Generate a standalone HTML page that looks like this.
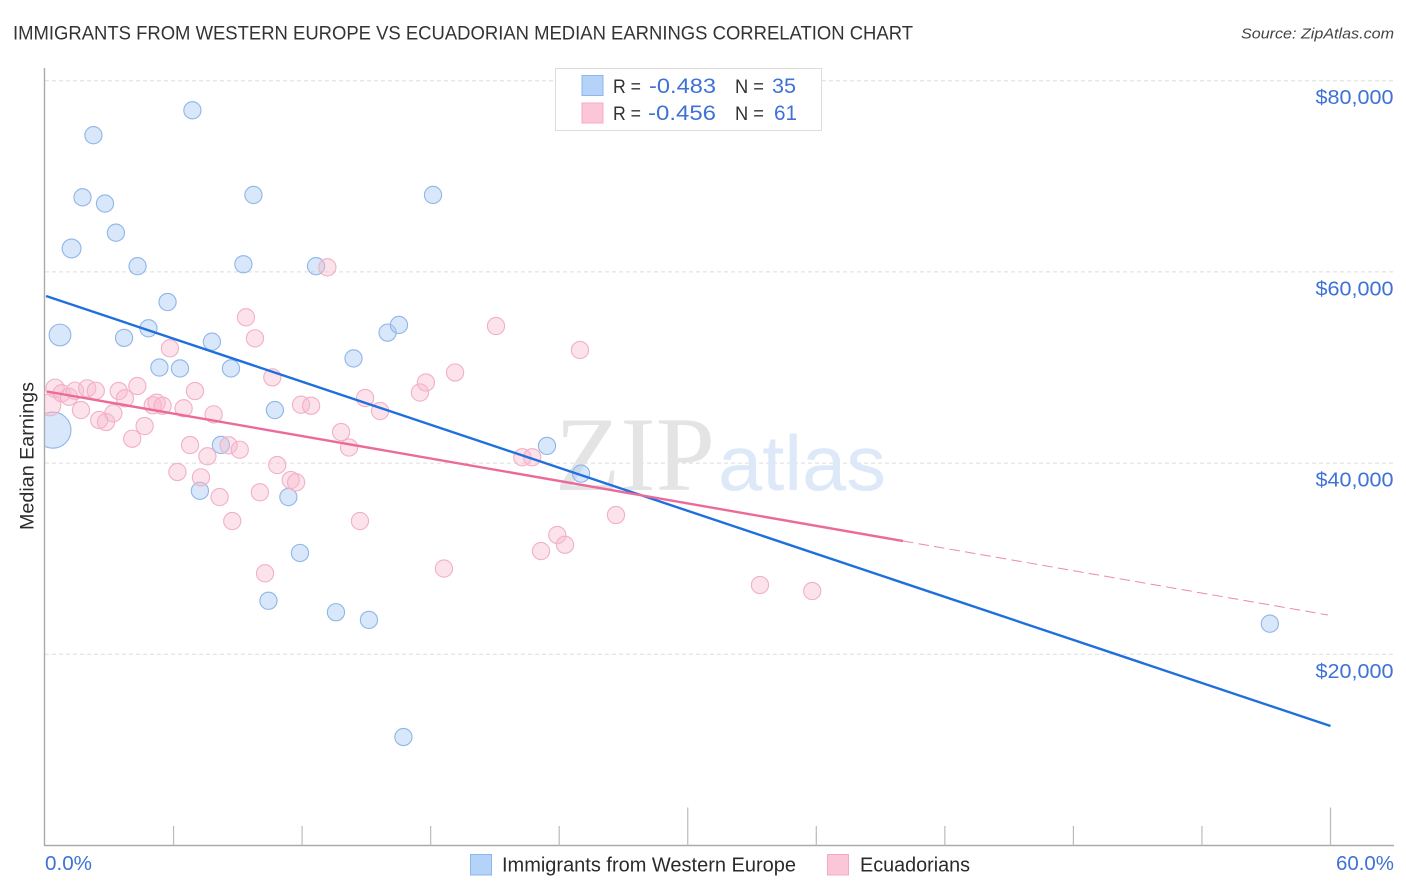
<!DOCTYPE html>
<html lang="en">
<head>
<meta charset="utf-8">
<title>Immigrants from Western Europe vs Ecuadorian Median Earnings Correlation Chart</title>
<style>
html,body{margin:0;padding:0;background:#fff;width:1406px;height:892px;overflow:hidden}
svg{display:block;font-family:"Liberation Sans",sans-serif}
</style>
</head>
<body>
<svg id="chart" width="1406" height="892" viewBox="0 0 1406 892" xmlns="http://www.w3.org/2000/svg">
  <defs>
    <clipPath id="plot-clip"><rect x="45" y="60" width="1349" height="786"/></clipPath>
  </defs>
  <rect x="0" y="0" width="1406" height="892" fill="#ffffff"/>
  <text x="13" y="39.5" font-size="19" fill="#333333" textLength="900" lengthAdjust="spacingAndGlyphs">IMMIGRANTS FROM WESTERN EUROPE VS ECUADORIAN MEDIAN EARNINGS CORRELATION CHART</text>
  <text x="1241" y="38.5" font-size="15" font-style="italic" fill="#444444" textLength="153" lengthAdjust="spacingAndGlyphs">Source: ZipAtlas.com</text>
  <g id="grid-layer"></g>
  <g>
    <text x="555" y="490" font-family="'Liberation Serif',serif" font-size="106" fill="#e4e4e4" textLength="160" lengthAdjust="spacingAndGlyphs">ZIP</text>
    <text x="718" y="490" font-size="78" fill="#dde8f8" textLength="168" lengthAdjust="spacingAndGlyphs">atlas</text>
  </g>
  <g id="axis-layer"></g>
  <g id="blue-points" clip-path="url(#plot-clip)"></g>
  <g id="pink-points" clip-path="url(#plot-clip)"></g>
  <g id="trend-layer"></g>
  <g id="label-layer"></g>
  <text transform="translate(33.5 530) rotate(-90)" font-size="19" fill="#2b2b2b" textLength="148" lengthAdjust="spacingAndGlyphs">Median Earnings</text>

  <g>
    <rect x="555.5" y="68.5" width="266" height="62" fill="#ffffff" stroke="#dcdcdc" stroke-width="1"/>
    <rect x="582" y="75.5" width="21" height="20" fill="#b5d2f8" stroke="#8db6ec" stroke-width="1"/>
    <rect x="582" y="103" width="21" height="20" fill="#fcc6d9" stroke="#f6a9c4" stroke-width="1"/>
    <text x="613" y="93" font-size="19.5" fill="#333333" textLength="28" lengthAdjust="spacingAndGlyphs">R =</text>
    <text x="649" y="93" font-size="21" fill="#3f72d6" textLength="67" lengthAdjust="spacingAndGlyphs">-0.483</text>
    <text x="735" y="93" font-size="19.5" fill="#333333" textLength="29" lengthAdjust="spacingAndGlyphs">N =</text>
    <text x="772" y="93" font-size="21" fill="#3f72d6" textLength="24" lengthAdjust="spacingAndGlyphs">35</text>
    <text x="613" y="120" font-size="19.5" fill="#333333" textLength="28" lengthAdjust="spacingAndGlyphs">R =</text>
    <text x="648" y="120" font-size="21" fill="#3f72d6" textLength="68" lengthAdjust="spacingAndGlyphs">-0.456</text>
    <text x="735" y="120" font-size="19.5" fill="#333333" textLength="29" lengthAdjust="spacingAndGlyphs">N =</text>
    <text x="774" y="120" font-size="21" fill="#3f72d6" textLength="23" lengthAdjust="spacingAndGlyphs">61</text>
  </g>

  <g>
    <rect x="470.5" y="854.5" width="21" height="20.5" fill="#b5d2f8" stroke="#8db6ec" stroke-width="1"/>
    <text x="502" y="871.5" font-size="20" fill="#2b2b2b" textLength="294" lengthAdjust="spacingAndGlyphs">Immigrants from Western Europe</text>
    <rect x="827.5" y="854.5" width="21" height="20.5" fill="#fcc6d9" stroke="#f6a9c4" stroke-width="1"/>
    <text x="860" y="871.5" font-size="20" fill="#2b2b2b" textLength="110" lengthAdjust="spacingAndGlyphs">Ecuadorians</text>
  </g>
</svg>
<script>
// ---- chart data ----
const yTickValues = [20000, 40000, 60000, 80000];
const yTickLabels = ["$20,000", "$40,000", "$60,000", "$80,000"];
const xTickValues = [6, 12, 18, 24, 30, 36, 42, 48, 54, 60];
const xMajorTicks = [30, 60];
const xEndLabels = ["0.0%", "60.0%"];

const blueShare = [6.88,2.26,1.75,2.80,9.73,18.11,3.31,1.24,4.32,9.26,12.65,5.72,0.70,3.69,4.83,7.79,5.34,6.30,8.68,14.40,15.99,16.52,10.73,0.37,8.21,23.43,25.02,7.23,11.36,11.90,10.43,13.58,15.12,16.73,57.17];
const blueEarnings = [76900,74300,67800,67150,68050,68050,64100,62450,60600,60800,60600,56850,53400,53100,54100,52700,50000,49900,49900,50950,53650,54450,45550,43450,41900,41800,38900,37100,36450,30600,25600,24400,23600,11350,23200];
const blueWeight = [1,1,1,1,1,1,1,1.2,1,1,1,1,1.6,1,1,1,1,1,1,1,1,1,1,4.4,1,1,1,1,1,1,1,1,1,1,1];

const pinkShare = [0.47,0.23,0.78,1.12,1.40,1.97,2.37,1.68,2.53,2.85,3.19,3.44,3.73,4.31,4.07,4.65,5.03,5.21,5.49,6.47,7.00,7.87,6.77,7.58,8.57,9.09,6.18,7.28,8.15,8.74,10.03,10.27,10.61,10.84,11.47,11.72,11.95,12.42,13.82,14.19,13.18,9.38,9.80,5.83,14.70,14.94,15.64,17.50,17.78,19.14,21.05,24.97,22.28,22.74,23.91,24.27,23.15,26.65,33.37,35.81,18.62];
const pinkEarnings = [47820,46080,47300,46940,47570,47820,47570,45550,44510,44300,45210,47540,46780,48060,42550,43880,46050,46320,46000,45730,47540,45100,41890,40710,41860,41400,39070,38510,36450,33940,36950,28470,48970,39800,38230,37990,46110,46000,43250,41630,60480,55250,53050,52010,33940,46810,45450,47380,48430,49480,54340,51830,40610,40610,32480,31460,30800,34570,27250,26620,28970];
const pinkWeight = [1.15,1.6,1,1,1,1,1,1,1,1,1,1,1,1,1,1,1,1,1,1,1,1,1,1,1,1,1,1,1,1,1,1,1,1,1,1,1,1,1,1,1,1,1,1,1,1,1,1,1,1,1,1,1,1,1,1,1,1,1,1,1];

const blueTrendX = [0.05, 60];
const blueTrendY = [57480, 12500];
const pinkTrendX = [0.09, 40.05];
const pinkTrendY = [47490, 31850];
const pinkForecastX = [40.05, 59.88];
const pinkForecastY = [31850, 24110];

// ---- axis functions ----
const SVGNS = "http://www.w3.org/2000/svg";
const plotLeft = 45, plotRight60 = 1330.5, plotBottom = 845.5, pxPerDollar = 191.2 / 20000;
function xScale(v) { return plotLeft + v * (plotRight60 - plotLeft) / 60; }
function yScale(v) { return plotBottom - v * pxPerDollar; }
function rScale(w) { return 8.6 * Math.sqrt(w); }
function make(tag, parent, attrs) {
  const el = document.createElementNS(SVGNS, tag);
  for (const k in attrs) el.setAttribute(k, attrs[k]);
  parent.appendChild(el);
  return el;
}

const gridLayer = document.getElementById("grid-layer");
const axisLayer = document.getElementById("axis-layer");
const labelLayer = document.getElementById("label-layer");
const blueLayer = document.getElementById("blue-points");
const pinkLayer = document.getElementById("pink-points");
const trendLayer = document.getElementById("trend-layer");

// gridlines and y labels
yTickValues.forEach(function (v, i) {
  const line = make("line", gridLayer, {x1: plotLeft, x2: 1394, y1: yScale(v), y2: yScale(v), stroke: "#dddddd", "stroke-width": 1, "stroke-dasharray": "4 3"});
  
  
  const label = make("text", labelLayer, {x: 1393.5, y: yScale(v) + 23.5, "text-anchor": "end", "font-size": 20, fill: "#3f72d6", textLength: 78, lengthAdjust: "spacingAndGlyphs"});
  
  
  label.textContent = yTickLabels[i];
});

// axes
const yAxis = make("line", axisLayer, {x1: 44.5, x2: 44.5, y1: 68, y2: 846, stroke: "#aaaaaa", "stroke-width": 1.4});


const xAxis = make("line", axisLayer, {x1: 44, x2: 1394, y1: 845.5, y2: 845.5, stroke: "#aaaaaa", "stroke-width": 1.4});


xTickValues.forEach(function (v) {
  const top = xMajorTicks.indexOf(v) >= 0 ? 807.5 : 826;
  const tick = make("line", axisLayer, {x1: xScale(v), x2: xScale(v), y1: top, y2: 845.5, stroke: "#bbbbbb", "stroke-width": 1.2});
  
  
});
const xLabelStart = make("text", labelLayer, {x: 45, y: 870, "font-size": 20, fill: "#3f72d6", textLength: 47, lengthAdjust: "spacingAndGlyphs"});


xLabelStart.textContent = xEndLabels[0];
const xLabelEnd = make("text", labelLayer, {x: 1336, y: 870, "font-size": 20, fill: "#3f72d6", textLength: 58, lengthAdjust: "spacingAndGlyphs"});


xLabelEnd.textContent = xEndLabels[1];

// points
blueShare.forEach(function (v, i) {
  const dot = make("circle", blueLayer, {cx: xScale(v), cy: yScale(blueEarnings[i]), r: rScale(blueWeight[i]), fill: "#a9c9f2", "fill-opacity": 0.45, stroke: "#8fb6e8", "stroke-width": 1.1});
  
  
});
pinkShare.forEach(function (v, i) {
  const dot = make("circle", pinkLayer, {cx: xScale(v), cy: yScale(pinkEarnings[i]), r: rScale(pinkWeight[i]), fill: "#f8b9ce", "fill-opacity": 0.42, stroke: "#f2b0c6", "stroke-width": 1.1});
  
  
});

// trend lines
const blueTrend = make("line", trendLayer, {x1: xScale(blueTrendX[0]), y1: yScale(blueTrendY[0]), x2: xScale(blueTrendX[1]), y2: yScale(blueTrendY[1]), stroke: "#1f6fdc", "stroke-width": 2.4});


const pinkTrend = make("line", trendLayer, {x1: xScale(pinkTrendX[0]), y1: yScale(pinkTrendY[0]), x2: xScale(pinkTrendX[1]), y2: yScale(pinkTrendY[1]), stroke: "#ec6a9a", "stroke-width": 2.4});


const pinkForecast = make("line", trendLayer, {x1: xScale(pinkForecastX[0]), y1: yScale(pinkForecastY[0]), x2: xScale(pinkForecastX[1]), y2: yScale(pinkForecastY[1]), stroke: "#ec8aaa", "stroke-width": 1, "stroke-dasharray": "10.5 5.2"});


</script>
</body>
</html>
